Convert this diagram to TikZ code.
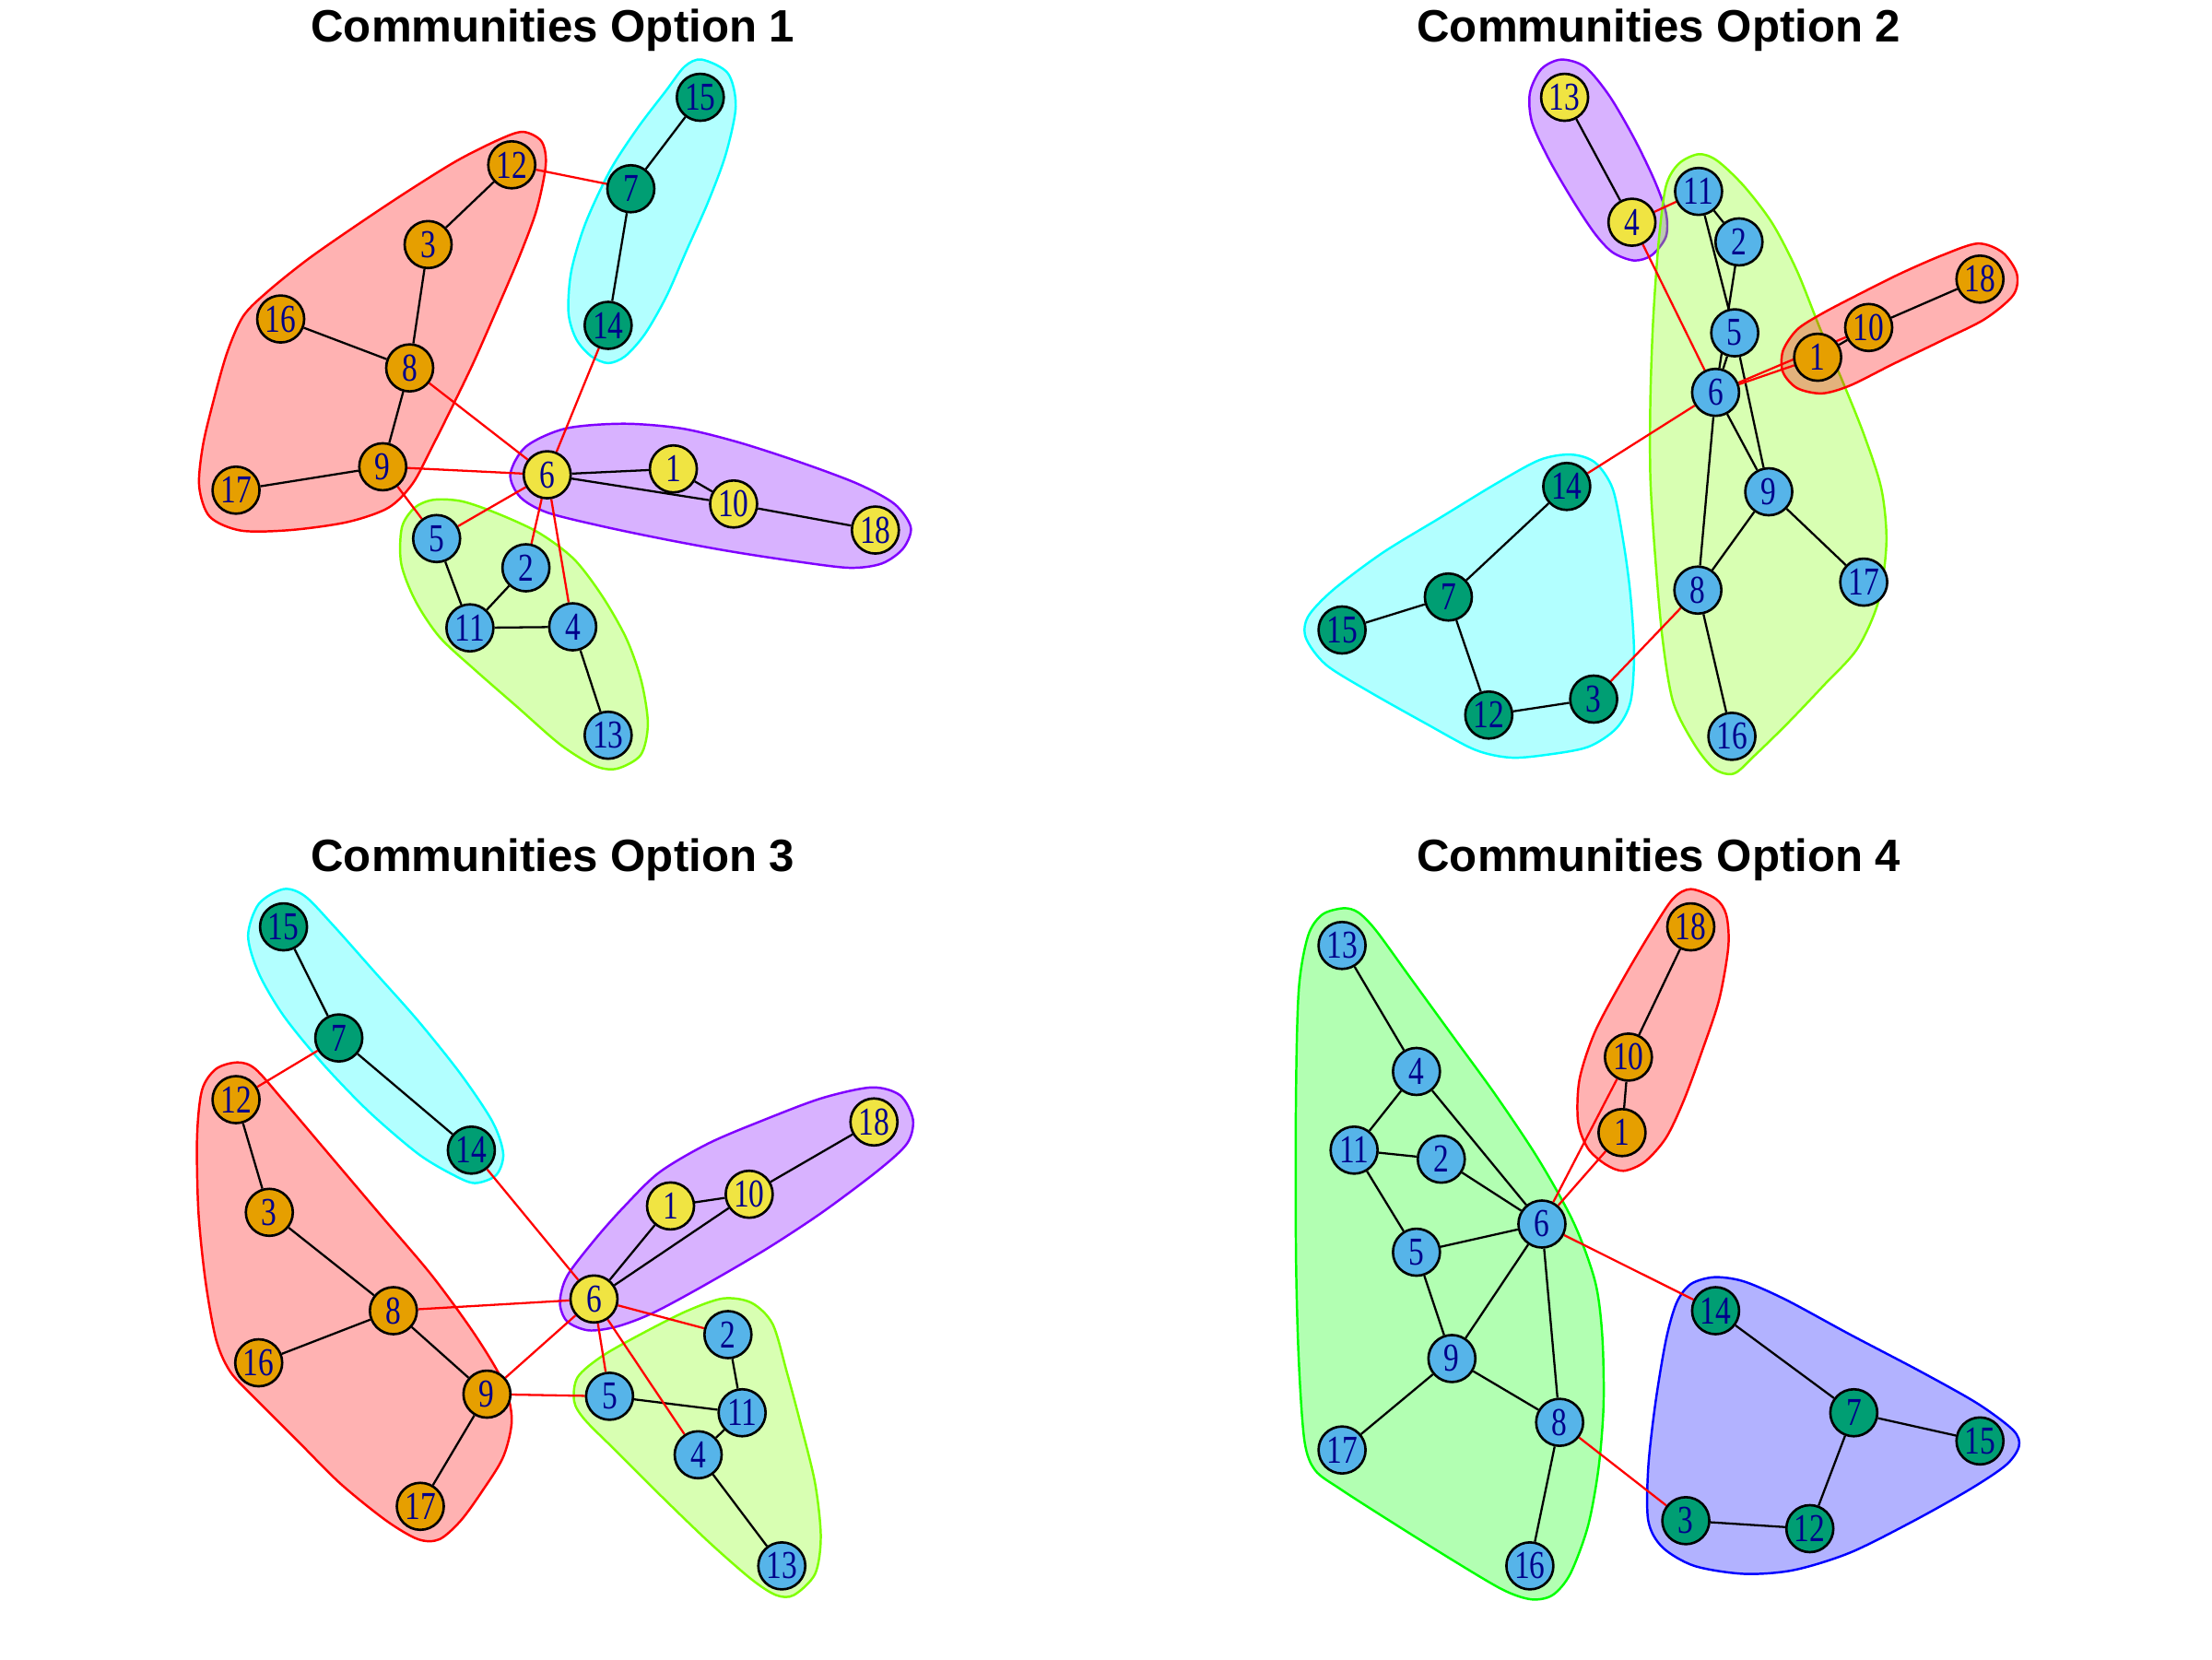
\documentclass[tikz,border=0pt]{standalone}
\usepackage{fontspec}
\setmainfont{Liberation Serif}
\newfontfamily\ttlfont{Liberation Sans}
\newfontfamily\lblfont{Liberation Serif}[FakeStretch=0.78]
\pgfdeclarelayer{bg}
\pgfdeclarelayer{hulls}
\pgfdeclarelayer{edges}
\pgfsetlayers{bg,hulls,edges,main}
\definecolor{vorange}{HTML}{E69F00}
\definecolor{vblue}{HTML}{56B4E9}
\definecolor{vgreen}{HTML}{009E73}
\definecolor{vyellow}{HTML}{F0E442}
\definecolor{lblue}{HTML}{00008B}
\definecolor{hred}{HTML}{FF0000}
\definecolor{hchart}{HTML}{80FF00}
\definecolor{hcyan}{HTML}{00FFFF}
\definecolor{hviolet}{HTML}{8000FF}
\definecolor{hgreen}{HTML}{00FF00}
\definecolor{hblue}{HTML}{0000FF}
\tikzset{
  vtx/.style={circle, draw=black, line width=0.75pt, minimum size=0.51cm, inner sep=0pt,
    text=lblue, font=\lblfont\fontsize{12.2}{12.2}\selectfont},
  vo/.style={vtx, fill=vorange},
  vb/.style={vtx, fill=vblue},
  vg/.style={vtx, fill=vgreen},
  vy/.style={vtx, fill=vyellow},
  ein/.style={draw=black, line width=0.65pt},
  eout/.style={draw=red, line width=0.65pt},
  hull/.style={line width=0.7pt, fill opacity=0.3, draw opacity=1},
  ttl/.style={font=\ttlfont\bfseries\fontsize{14}{14}\selectfont, anchor=base, inner sep=0pt},
  quad/.style={x=0.0076923cm, y=-0.0057692cm}
}
\begin{document}
\begin{tikzpicture}
\begin{pgfonlayer}{bg}
\fill[white] (0,0) rectangle (24,-18);
\end{pgfonlayer}
\useasboundingbox (0,0) rectangle (24,-18);

% ---------------- Option 1 ----------------
\begin{scope}[shift={(0cm,0cm)}, quad]
\node[ttl] (t1) at (780,78) {Communities Option 1};
\begin{pgfonlayer}{hulls}
\draw[hull, draw=hred, fill=hred] plot[smooth cycle] coordinates {(738,248) (764,266) (770,310) (757,395) (732,485) (700,585) (668,682) (638,765) (608,845) (582,910) (548,955) (490,982) (410,997) (340,998) (296,972) (281,915) (286,840) (300,760) (320,665) (343,595) (378,548) (435,487) (505,422) (575,360) (645,302) (705,262)};
\draw[hull, draw=hcyan, fill=hcyan] plot[smooth cycle] coordinates {(990,112) (1027,138) (1038,200) (1024,290) (999,380) (969,470) (940,558) (910,628) (882,670) (858,683) (834,670) (813,638) (802,588) (806,510) (826,420) (861,320) (900,240) (940,170) (966,125)};
\draw[hull, draw=hviolet, fill=hviolet] plot[smooth cycle] coordinates {(720,892) (742,840) (798,806) (880,797) (962,806) (1042,832) (1130,870) (1210,910) (1262,948) (1285,992) (1274,1032) (1244,1060) (1198,1068) (1118,1055) (1030,1037) (940,1015) (850,990) (772,964) (734,935)};
\draw[hull, draw=hchart, fill=hchart] plot[smooth cycle] coordinates {(612,940) (652,943) (702,966) (760,1002) (810,1052) (850,1122) (884,1202) (905,1282) (914,1362) (904,1420) (870,1446) (838,1440) (790,1400) (730,1330) (670,1260) (620,1198) (586,1130) (566,1060) (567,992) (585,955)};
\end{pgfonlayer}
\node[vg] (a15) at (988,183) {15};
\node[vg] (a7) at (890,355) {7};
\node[vg] (a14) at (858,612) {14};
\node[vo] (a12) at (722,310) {12};
\node[vo] (a3) at (604,460) {3};
\node[vo] (a16) at (396,600) {16};
\node[vo] (a8) at (578,692) {8};
\node[vo] (a9) at (540,878) {9};
\node[vo] (a17) at (333,922) {17};
\node[vy] (a6) at (772,893) {6};
\node[vy] (a1) at (950,882) {1};
\node[vy] (a10) at (1035,948) {10};
\node[vy] (a18) at (1235,997) {18};
\node[vb] (a5) at (616,1013) {5};
\node[vb] (a2) at (742,1068) {2};
\node[vb] (a11) at (663,1181) {11};
\node[vb] (a4) at (808,1179) {4};
\node[vb] (a13) at (858,1383) {13};
\begin{pgfonlayer}{edges}
\foreach \u/\v in {15/7,7/14,12/3,3/8,16/8,8/9,9/17,6/1,6/10,1/10,10/18,5/11,2/11,4/11,4/13}
  \draw[ein] (a\u) -- (a\v);
\foreach \u/\v in {7/12,6/8,6/9,6/14,5/9,5/6,2/6,4/6}
  \draw[eout] (a\u) -- (a\v);
\end{pgfonlayer}
\end{scope}

% ---------------- Option 2 ----------------
\begin{scope}[shift={(12cm,0cm)}, quad]
\node[ttl] (t2) at (780,78) {Communities Option 2};
\begin{pgfonlayer}{hulls}
\draw[hull, draw=hviolet, fill=hviolet] plot[smooth cycle] coordinates {(642,112) (676,126) (710,180) (745,260) (774,340) (790,400) (790,445) (770,480) (745,490) (715,475) (690,440) (660,380) (625,300) (601,230) (598,175) (614,130)};
\draw[hull, draw=hchart, fill=hchart] plot[smooth cycle] coordinates {(836,290) (862,302) (900,350) (940,420) (975,510) (1008,620) (1040,720) (1070,820) (1094,920) (1101,1020) (1090,1130) (1060,1220) (1012,1290) (962,1360) (916,1420) (886,1455) (858,1446) (830,1400) (800,1320) (785,1200) (775,1050) (768,900) (768,750) (772,600) (780,450) (790,350) (808,308)};
\draw[hull, draw=hred, fill=hred] plot[smooth cycle] coordinates {(1230,458) (1265,475) (1285,515) (1280,555) (1240,600) (1180,640) (1110,685) (1050,725) (1010,740) (975,730) (955,700) (955,660) (975,620) (1010,590) (1060,555) (1120,515) (1180,480)};
\draw[hull, draw=hcyan, fill=hcyan] plot[smooth cycle] coordinates {(656,855) (690,870) (715,920) (730,1020) (740,1120) (745,1230) (740,1320) (720,1370) (680,1405) (620,1420) (570,1425) (520,1410) (450,1360) (370,1300) (310,1250) (282,1200) (285,1160) (320,1110) (390,1040) (470,975) (550,910) (612,865)};
\end{pgfonlayer}
\node[vy] (b13) at (647,183) {13};
\node[vy] (b4) at (742,418) {4};
\node[vb] (b11) at (836,360) {11};
\node[vb] (b2) at (893,455) {2};
\node[vb] (b5) at (887,626) {5};
\node[vb] (b6) at (860,738) {6};
\node[vo] (b1) at (1004,672) {1};
\node[vo] (b10) at (1076,616) {10};
\node[vo] (b18) at (1233,525) {18};
\node[vg] (b14) at (650,915) {14};
\node[vg] (b7) at (483,1123) {7};
\node[vg] (b15) at (333,1185) {15};
\node[vg] (b12) at (540,1345) {12};
\node[vg] (b3) at (688,1315) {3};
\node[vb] (b9) at (935,925) {9};
\node[vb] (b8) at (835,1110) {8};
\node[vb] (b17) at (1069,1095) {17};
\node[vb] (b16) at (883,1385) {16};
\begin{pgfonlayer}{edges}
\foreach \u/\v in {1/10,10/18,7/15,7/14,7/12,3/12,8/16,8/9,9/17,6/8,6/9,5/9,5/6,2/6,5/11,2/11,4/13}
  \draw[ein] (b\u) -- (b\v);
\foreach \u/\v in {1/6,6/10,3/8,6/14,4/6,4/11}
  \draw[eout] (b\u) -- (b\v);
\end{pgfonlayer}
\end{scope}

% ---------------- Option 3 ----------------
\begin{scope}[shift={(0cm,-9cm)}, quad]
\node[ttl] (t3) at (780,78) {Communities Option 3};
\begin{pgfonlayer}{hulls}
\draw[hull, draw=hcyan, fill=hcyan] plot[smooth cycle] coordinates {(400,112) (430,125) (470,180) (530,270) (590,360) (650,460) (695,550) (710,610) (700,650) (670,665) (640,650) (590,610) (520,530) (455,440) (400,350) (365,270) (350,200) (365,140)};
\draw[hull, draw=hred, fill=hred] plot[smooth cycle] coordinates {(335,438) (360,450) (400,510) (470,620) (540,730) (610,840) (670,950) (710,1040) (722,1110) (710,1180) (680,1245) (650,1300) (620,1335) (590,1335) (545,1300) (480,1230) (420,1150) (360,1070) (325,1020) (305,960) (290,850) (280,720) (278,580) (285,490) (305,450)};
\draw[hull, draw=hviolet, fill=hviolet] plot[smooth cycle] coordinates {(1230,485) (1270,500) (1288,545) (1280,590) (1240,640) (1160,720) (1080,790) (990,860) (920,910) (870,935) (830,942) (800,925) (790,890) (800,840) (840,770) (880,710) (930,645) (1000,590) (1080,545) (1160,505)};
\draw[hull, draw=hchart, fill=hchart] plot[smooth cycle] coordinates {(1020,882) (1060,890) (1090,930) (1110,1020) (1130,1120) (1150,1230) (1158,1330) (1150,1400) (1120,1440) (1095,1440) (1060,1410) (1000,1340) (930,1250) (870,1170) (825,1110) (810,1075) (815,1030) (850,990) (910,945) (970,905)};
\end{pgfonlayer}
\node[vg] (c15) at (400,183) {15};
\node[vg] (c7) at (478,392) {7};
\node[vg] (c14) at (665,603) {14};
\node[vo] (c12) at (333,508) {12};
\node[vo] (c3) at (380,720) {3};
\node[vo] (c8) at (555,905) {8};
\node[vo] (c16) at (365,1003) {16};
\node[vo] (c9) at (687,1062) {9};
\node[vo] (c17) at (593,1273) {17};
\node[vy] (c6) at (838,883) {6};
\node[vy] (c1) at (946,708) {1};
\node[vy] (c10) at (1057,686) {10};
\node[vy] (c18) at (1233,550) {18};
\node[vb] (c2) at (1027,950) {2};
\node[vb] (c5) at (860,1066) {5};
\node[vb] (c11) at (1047,1097) {11};
\node[vb] (c4) at (985,1176) {4};
\node[vb] (c13) at (1103,1385) {13};
\begin{pgfonlayer}{edges}
\foreach \u/\v in {15/7,7/14,12/3,3/8,16/8,8/9,9/17,6/1,6/10,1/10,10/18,5/11,2/11,4/11,4/13}
  \draw[ein] (c\u) -- (c\v);
\foreach \u/\v in {7/12,6/8,6/9,6/14,5/9,5/6,2/6,4/6}
  \draw[eout] (c\u) -- (c\v);
\end{pgfonlayer}
\end{scope}

% ---------------- Option 4 ----------------
\begin{scope}[shift={(12cm,-9cm)}, quad]
\node[ttl] (t4) at (780,78) {Communities Option 4};
\begin{pgfonlayer}{hulls}
\draw[hull, draw=hgreen, fill=hgreen] plot[smooth cycle] coordinates {(335,148) (356,156) (381,190) (430,280) (490,390) (550,500) (610,620) (660,740) (690,850) (700,950) (702,1080) (695,1200) (680,1310) (655,1400) (630,1440) (600,1448) (560,1430) (490,1375) (400,1300) (330,1240) (295,1205) (280,1150) (272,1000) (268,800) (268,500) (272,300) (285,200) (305,160)};
\draw[hull, draw=hred, fill=hred] plot[smooth cycle] coordinates {(825,112) (860,130) (875,160) (878,220) (865,320) (840,420) (815,510) (790,580) (760,625) (730,642) (705,630) (680,600) (666,550) (668,470) (690,380) (730,280) (770,190) (800,130)};
\draw[hull, draw=hblue, fill=hblue] plot[smooth cycle] coordinates {(858,842) (900,850) (960,885) (1050,950) (1150,1020) (1230,1080) (1280,1130) (1288,1160) (1270,1195) (1220,1240) (1140,1300) (1050,1360) (970,1393) (900,1400) (830,1385) (785,1350) (765,1300) (765,1200) (775,1080) (790,960) (805,890) (825,855)};
\end{pgfonlayer}
\node[vb] (d13) at (333,218) {13};
\node[vb] (d4) at (438,455) {4};
\node[vb] (d11) at (350,603) {11};
\node[vb] (d2) at (473,620) {2};
\node[vb] (d6) at (615,742) {6};
\node[vb] (d5) at (438,795) {5};
\node[vb] (d9) at (488,995) {9};
\node[vb] (d17) at (333,1167) {17};
\node[vb] (d8) at (640,1115) {8};
\node[vb] (d16) at (598,1385) {16};
\node[vo] (d18) at (825,183) {18};
\node[vo] (d10) at (737,428) {10};
\node[vo] (d1) at (728,570) {1};
\node[vg] (d14) at (860,905) {14};
\node[vg] (d7) at (1055,1097) {7};
\node[vg] (d15) at (1233,1150) {15};
\node[vg] (d3) at (818,1300) {3};
\node[vg] (d12) at (993,1315) {12};
\begin{pgfonlayer}{edges}
\foreach \u/\v in {13/4,4/11,4/6,2/11,2/6,5/11,5/6,5/9,6/9,9/17,8/9,6/8,8/16,1/10,10/18,7/14,7/15,7/12,3/12}
  \draw[ein] (d\u) -- (d\v);
\foreach \u/\v in {1/6,6/10,6/14,3/8}
  \draw[eout] (d\u) -- (d\v);
\end{pgfonlayer}
\end{scope}
\end{tikzpicture}
\end{document}
